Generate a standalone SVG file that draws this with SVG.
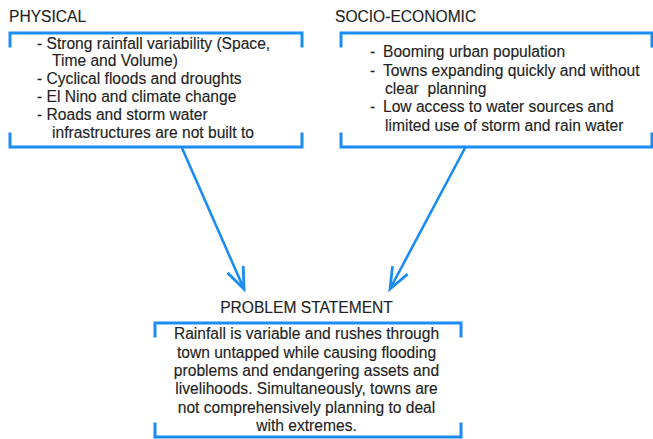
<svg xmlns="http://www.w3.org/2000/svg" width="653" height="439" viewBox="0 0 653 439">
  <style>
    .frame { fill: none; stroke: #1a8cf4; stroke-width: 3; stroke-linecap: square; }
    .link { fill: none; stroke: #1a8cf4; stroke-width: 2.6; }
    text { font-family: "Liberation Sans", Arial, sans-serif; font-size: 15.6px; fill: #231f24; stroke: #231f24; stroke-width: 0.15; }
    .mid { text-anchor: middle; }
    .pre { white-space: pre; }
  </style>
  <defs>
    <marker id="head" markerUnits="userSpaceOnUse" markerWidth="30" markerHeight="30" viewBox="-24 -12 28 24" refX="0" refY="0" orient="auto">
      <path d="M-20,-8 L0,0 L-20,8" fill="none" stroke="#1a8cf4" stroke-width="2.6"/>
    </marker>
  </defs>

  <g id="physical">
    <text x="9" y="22">PHYSICAL</text>
    <path class="frame" d="M10,46 V33 H302 V46"/>
    <path class="frame" d="M10,134 V147 H302 V134"/>
    <text x="37" y="49">- Strong rainfall variability (Space,</text>
    <text x="52" y="66">Time and Volume)</text>
    <text x="37" y="84">- Cyclical floods and droughts</text>
    <text x="37" y="102">- El Nino and climate change</text>
    <text x="37" y="120">- Roads and storm water</text>
    <text x="52" y="138">infrastructures are not built to</text>
  </g>

  <g id="socio-economic">
    <text x="335" y="22">SOCIO-ECONOMIC</text>
    <path class="frame" d="M341,46 V33 H652 V46"/>
    <path class="frame" d="M341,134 V147 H652 V134"/>
    <text x="370" y="57">-</text>
    <text x="383" y="57">Booming urban population</text>
    <text x="370" y="76">-</text>
    <text x="383" y="76">Towns expanding quickly and without</text>
    <text class="pre" x="385" y="94">clear  planning</text>
    <text x="370" y="112">-</text>
    <text x="383" y="112">Low access to water sources and</text>
    <text x="385" y="131">limited use of storm and rain water</text>
  </g>

  <g id="problem-statement">
    <text class="mid" x="306.5" y="313">PROBLEM STATEMENT</text>
    <path class="frame" d="M155,336 V323 H461 V336"/>
    <path class="frame" d="M155,424 V437 H461 V424"/>
    <text class="mid" x="306.5" y="339">Rainfall is variable and rushes through</text>
    <text class="mid" x="306.5" y="357.5">town untapped while causing flooding</text>
    <text class="mid" x="306.5" y="376">problems and endangering assets and</text>
    <text class="mid" x="306.5" y="394">livelihoods. Simultaneously, towns are</text>
    <text class="mid" x="306.5" y="412.5">not comprehensively planning to deal</text>
    <text class="mid" x="306.5" y="431">with extremes.</text>
  </g>

  <g id="connectors">
    <path class="link" d="M182,148 L244,289" marker-end="url(#head)"/>
    <path class="link" d="M465,148 L390,289" marker-end="url(#head)"/>
  </g>
</svg>
